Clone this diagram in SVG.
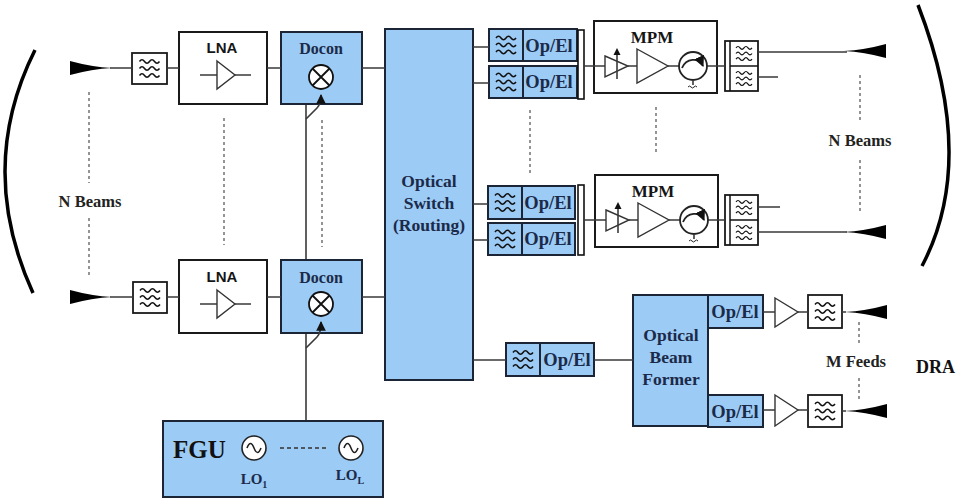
<svg xmlns="http://www.w3.org/2000/svg" xmlns:xlink="http://www.w3.org/1999/xlink" width="961" height="499" viewBox="0 0 961 499">
<style>
.wbox{fill:#fff;stroke:#1a1a1a;stroke-width:2}
.bbox{fill:#9ccbf6;stroke:#1c2536;stroke-width:2}
.fbox{fill:#fff;stroke:#1a1a1a;stroke-width:1.8}
.ln{stroke:#3a3a3a;stroke-width:1.6;fill:none}
.dash{stroke:#7a7a7a;stroke-width:1.6;stroke-dasharray:3 3;fill:none}
.wave{stroke:#111;stroke-width:1.5;fill:none}
.tri{fill:#fff;stroke:#333;stroke-width:1.4}
.serif{font-family:"Liberation Serif","Times New Roman",serif;font-weight:bold;text-anchor:middle}
.sans{font-family:"Liberation Sans",Arial,sans-serif;font-weight:bold;text-anchor:middle}
.navy{fill:#1b2a48}
.blk{fill:#151515}
</style>
<defs>
<g id="waves"><path class="wave" d="M-10,-7 q2.5,-3.5 5,0 t5,0 t5,0 t5,0 M-10,0 q2.5,-3.5 5,0 t5,0 t5,0 t5,0 M-10,7 q2.5,-3.5 5,0 t5,0 t5,0 t5,0"/></g>
<path id="hornL" d="M0,-7 Q22,-1 42,0 Q22,1 0,7 Z" fill="#000"/>
<path id="hornR" d="M0,-7 Q-22,-1 -42,0 Q-22,1 0,7 Z" fill="#000"/>
<g id="mixer"><circle r="12" fill="#fff" stroke="#111" stroke-width="1.8"/><path d="M-8.5,-8.5 L8.5,8.5 M-8.5,8.5 L8.5,-8.5" stroke="#111" stroke-width="1.8"/></g>
<marker id="arr" viewBox="0 0 10 10" refX="9" refY="5" markerWidth="6" markerHeight="6" orient="auto"><path d="M0,0 L10,5 L0,10 Z" fill="#111"/></marker>
<g id="osc"><circle r="12" fill="#fff" stroke="#222" stroke-width="1.6"/><path d="M-7,0 q3.5,-9 7,0 t7,0" stroke="#222" stroke-width="1.6" fill="none"/></g>
</defs>
<rect width="961" height="499" fill="#fff"/>

<!-- reflectors -->
<g id="reflector-left"><path d="M35,50 Q-24,168 33,293" fill="none" stroke="#000" stroke-width="3.5"/></g>
<g id="reflector-right"><path d="M918,5 Q978,160 922,266" fill="none" stroke="#000" stroke-width="3.5"/></g>

<!-- input chain 1 -->
<g id="horn-in-1"><use xlink:href="#hornL" x="70" y="68"/></g>
<g id="filter-in-1"><rect class="fbox" x="132" y="53" width="35" height="31"/><use xlink:href="#waves" x="149.5" y="68.5"/></g>
<g id="lna-1"><rect class="wbox" x="179" y="32" width="88" height="72"/><text class="sans blk" x="222" y="53" font-size="15">LNA</text><path class="ln" d="M200,75 H217 M235,75 H251"/><path class="tri" d="M217,61 L235,75 L217,89 Z"/></g>
<g id="docon-1"><rect class="bbox" x="281" y="32" width="81" height="72"/><text class="serif navy" x="321" y="54" font-size="16">Docon</text><use xlink:href="#mixer" x="321" y="77"/></g>

<!-- input chain N -->
<g id="horn-in-N"><use xlink:href="#hornL" x="70" y="297"/></g>
<g id="filter-in-N"><rect class="fbox" x="133" y="282" width="34" height="31"/><use xlink:href="#waves" x="150" y="297.5"/></g>
<g id="lna-N"><rect class="wbox" x="179" y="260" width="88" height="73"/><text class="sans blk" x="222" y="282" font-size="15">LNA</text><path class="ln" d="M200,304 H217 M235,304 H251"/><path class="tri" d="M217,290 L235,304 L217,318 Z"/></g>
<g id="docon-N"><rect class="bbox" x="281" y="260" width="81" height="73"/><text class="serif navy" x="321" y="283" font-size="16">Docon</text><use xlink:href="#mixer" x="321" y="304"/></g>

<!-- optical switch -->
<g id="optical-switch"><rect class="bbox" x="385" y="29" width="88" height="351"/>
<text class="serif navy" font-size="17.5"><tspan x="429" y="187">Optical</tspan><tspan x="429" y="209">Switch</tspan><tspan x="429" y="231">(Routing)</tspan></text></g>

<!-- Op/El pairs to MPM 1 -->
<g id="opel-1a"><rect class="bbox" x="489" y="29" width="88" height="32"/><line x1="523" y1="29" x2="523" y2="61" stroke="#1c2536" stroke-width="2"/><use xlink:href="#waves" x="506" y="45"/><text class="serif navy" x="549" y="52" font-size="18.5">Op/El</text></g>
<g id="opel-1b"><rect class="bbox" x="489" y="66" width="88" height="32"/><line x1="523" y1="66" x2="523" y2="98" stroke="#1c2536" stroke-width="2"/><use xlink:href="#waves" x="506" y="82"/><text class="serif navy" x="549" y="88" font-size="18.5">Op/El</text></g>
<g id="combiner-1"><rect x="578" y="30" width="6" height="69" fill="#fff" stroke="#111" stroke-width="1.6"/></g>
<g id="mpm-1"><rect class="wbox" x="594" y="21" width="123" height="72"/><text class="serif blk" x="652" y="43" font-size="17">MPM</text>
<path class="ln" d="M594,66 H605 M628,66 H637 M668,66 H679 M707,66 H717"/>
<path class="tri" d="M605,56 L628,66 L605,77 Z"/><path class="tri" d="M637,49 L668,66 L637,83 Z"/>
<path class="ln" d="M617,79 V55"/><path d="M613.5,55 L617,48 L620.5,55 Z" fill="#111"/>
<circle cx="693" cy="66" r="14" fill="#fff" stroke="#222" stroke-width="1.8"/>
<path d="M682,68 C686,58 699,57 703,66" stroke="#222" stroke-width="1.8" fill="none" marker-end="url(#arr)"/>
<path class="ln" d="M693,80 V85"/><path d="M688,87 q1.5,-2 3,0 t3,0 t3,0" stroke="#222" stroke-width="1" fill="none"/></g>
<g id="filterbank-1"><rect class="fbox" x="725" y="41" width="33" height="50"/><line x1="730" y1="41" x2="730" y2="91" stroke="#111" stroke-width="1.5"/><line x1="730" y1="66" x2="758" y2="66" stroke="#111" stroke-width="1.5"/><g transform="translate(744,53.5) scale(0.8)"><use xlink:href="#waves"/></g><g transform="translate(744,78.5) scale(0.8)"><use xlink:href="#waves"/></g></g>
<g id="horn-out-1"><use xlink:href="#hornR" x="886" y="51"/></g>

<!-- Op/El pairs to MPM N -->
<g id="opel-Na"><rect class="bbox" x="488" y="186" width="87" height="33"/><line x1="522" y1="186" x2="522" y2="219" stroke="#1c2536" stroke-width="2"/><use xlink:href="#waves" x="505" y="202.5"/><text class="serif navy" x="548" y="209" font-size="18.5">Op/El</text></g>
<g id="opel-Nb"><rect class="bbox" x="488" y="223" width="87" height="32"/><line x1="522" y1="223" x2="522" y2="255" stroke="#1c2536" stroke-width="2"/><use xlink:href="#waves" x="505" y="239"/><text class="serif navy" x="548" y="245" font-size="18.5">Op/El</text></g>
<g id="combiner-N"><rect x="578" y="185" width="6" height="70" fill="#fff" stroke="#111" stroke-width="1.6"/></g>
<g id="mpm-N" transform="translate(1,154)"><rect class="wbox" x="594" y="21" width="123" height="72"/><text class="serif blk" x="652" y="43" font-size="17">MPM</text>
<path class="ln" d="M594,66 H605 M628,66 H637 M668,66 H679 M707,66 H717"/>
<path class="tri" d="M605,56 L628,66 L605,77 Z"/><path class="tri" d="M637,49 L668,66 L637,83 Z"/>
<path class="ln" d="M617,79 V55"/><path d="M613.5,55 L617,48 L620.5,55 Z" fill="#111"/>
<circle cx="693" cy="66" r="14" fill="#fff" stroke="#222" stroke-width="1.8"/>
<path d="M682,68 C686,58 699,57 703,66" stroke="#222" stroke-width="1.8" fill="none" marker-end="url(#arr)"/>
<path class="ln" d="M693,80 V85"/><path d="M688,87 q1.5,-2 3,0 t3,0 t3,0" stroke="#222" stroke-width="1" fill="none"/></g>
<g id="filterbank-N" transform="translate(0,154)"><rect class="fbox" x="725" y="41" width="33" height="50"/><line x1="730" y1="41" x2="730" y2="91" stroke="#111" stroke-width="1.5"/><line x1="730" y1="66" x2="758" y2="66" stroke="#111" stroke-width="1.5"/><g transform="translate(744,53.5) scale(0.8)"><use xlink:href="#waves"/></g><g transform="translate(744,78.5) scale(0.8)"><use xlink:href="#waves"/></g></g>
<g id="horn-out-N"><use xlink:href="#hornR" x="886" y="232"/></g>

<!-- beam former path -->
<g id="opel-bf"><rect class="bbox" x="506" y="343" width="88" height="33"/><line x1="540" y1="343" x2="540" y2="376" stroke="#1c2536" stroke-width="2"/><use xlink:href="#waves" x="523" y="359.5"/><text class="serif navy" x="567" y="366" font-size="18.5">Op/El</text></g>
<g id="optical-beam-former"><rect class="bbox" x="633" y="295" width="75" height="131"/>
<text class="serif navy" font-size="17.5"><tspan x="671" y="341">Optical</tspan><tspan x="671" y="363">Beam</tspan><tspan x="671" y="385">Former</tspan></text></g>
<g id="opel-f1"><rect class="bbox" x="708" y="295" width="55" height="33"/><text class="serif navy" x="735" y="318" font-size="18.5">Op/El</text></g>
<g id="opel-fM"><rect class="bbox" x="708" y="395" width="55" height="32"/><text class="serif navy" x="735" y="418" font-size="18.5">Op/El</text></g>
<g id="amp-f1"><path class="tri" d="M775,298 L798,312 L775,327 Z"/></g>
<g id="amp-fM"><path class="tri" d="M775,395 L798,410 L775,426 Z"/></g>
<g id="filter-f1"><rect class="fbox" x="808" y="295" width="34" height="33"/><use xlink:href="#waves" x="825" y="311.5"/></g>
<g id="filter-fM"><rect class="fbox" x="808" y="395" width="34" height="32"/><use xlink:href="#waves" x="825" y="411"/></g>
<g id="horn-f1"><use xlink:href="#hornR" x="887" y="312"/></g>
<g id="horn-fM"><use xlink:href="#hornR" x="887" y="411"/></g>

<!-- FGU -->
<g id="fgu"><rect class="bbox" x="163" y="421" width="220" height="76"/>
<text class="serif" x="173" y="458" font-size="25" fill="#111" style="text-anchor:start">FGU</text>
<use xlink:href="#osc" x="254" y="448"/><use xlink:href="#osc" x="351" y="448"/>
<path d="M280,448 H329" stroke="#333" stroke-width="1.5" stroke-dasharray="4 3"/>
<text class="serif navy" x="254" y="484" font-size="15">LO<tspan font-size="10" dy="4">1</tspan></text>
<text class="serif navy" x="350" y="480" font-size="15">LO<tspan font-size="10" dy="4">L</tspan></text></g>

<!-- connectors -->
<g id="connectors">
<path class="ln" d="M110,68 H132 M167,68 H179 M267,68 H281 M362,68 H385"/>
<path class="ln" d="M110,297 H133 M167,297 H179 M267,297 H281 M362,297 H385"/>
<path class="ln" d="M306,105 V259 M306,334 V420"/>
<path class="ln" d="M306,119 L317,108 Q321,104 321,95" marker-end="url(#arr)"/>
<path class="ln" d="M306,348 L317,337 Q321,333 321,322" marker-end="url(#arr)"/>
<path class="ln" d="M473,47 H489 M473,83 H489 M473,204 H488 M473,240 H488"/>
<path class="ln" d="M584,66 H594 M717,66 H725 M584,220 H595 M718,220 H725"/>
<path class="ln" d="M758,52 H847 M758,77 H778 M758,207 H780 M758,232 H847"/>
<path class="ln" d="M473,360 H506 M594,360 H633"/>
<path class="ln" d="M763,312 H775 M798,312 H808 M842,312 H846 M763,410 H775 M798,410 H808 M842,411 H846"/>
<path class="dash" d="M89,92 V183 M89,218 V275"/>
<path class="dash" d="M224,118 V245"/>
<path class="dash" d="M322,120 V247"/>
<path class="dash" d="M530,110 V176"/>
<path class="dash" d="M656,107 V155"/>
<path class="dash" d="M860,75 V120 M860,160 V213"/>
<path class="dash" d="M859,322 V345 M859,378 V400"/>
</g>

<!-- labels -->
<g id="labels">
<text class="serif" x="90" y="207" font-size="16.5" fill="#222">N Beams</text>
<text class="serif" x="860" y="146" font-size="16.5" fill="#222">N Beams</text>
<text class="serif" x="856" y="367" font-size="16.5" fill="#222">M Feeds</text>
<text class="serif" x="916" y="373" font-size="18" fill="#111" style="text-anchor:start">DRA</text>
</g>
</svg>
